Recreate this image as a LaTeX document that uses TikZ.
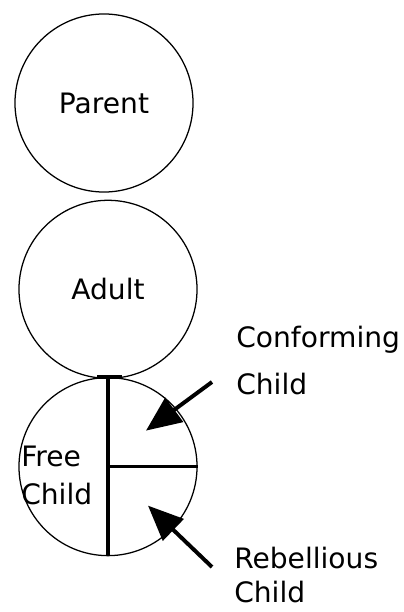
\documentclass[tikz,border=0pt]{standalone}
\usepackage{fontspec}
\setmainfont{DejaVu Sans}
\usetikzlibrary{arrows.meta,positioning,calc}

\begin{document}
\begin{tikzpicture}[
  x=0.025cm, y=-0.025cm,
  circ/.style={circle, draw, line width=0.9pt, minimum size=4.45cm, inner sep=0pt, font=\fontsize{20}{27}\selectfont},
  lbl/.style={font=\fontsize{20}{27}\selectfont, align=left, inner sep=0pt},
  arrow/.style={-{Triangle[length=25pt,width=21pt]}, line width=2.8pt},
  divider/.style={line width=2.4pt}
]
  \useasboundingbox (0,0) rectangle (403,612);

  \node[circ] (parent) at (104,103) {Parent};
  \node[circ, below=0.175cm of parent, xshift=0.1cm] (adult) {Adult};
  \node[circ, below=-0.05cm of adult] (child) {};

  \node[lbl, anchor=north west] (free) at (21,446) {Free\\Child};
  \node[lbl, anchor=north west] (conf) at (236,326) {Conforming\\[6pt]Child};
  \node[lbl, anchor=north west] (rebel) at (234,547) {Rebellious\\[-3pt]Child};

  % dividers of the child circle
  \draw[divider] (child.north) -- (child.south);
  \draw[divider] ($(child.north)+(-11,0)$) -- ($(child.north)+(14,0)$);
  \draw[divider] (child.center) -- (child.east);

  \coordinate (conftail) at (212,382);
  \coordinate (rebeltail) at (212,567);
  \coordinate (conftip) at ($(child.center)+(38,-36)$);
  \coordinate (rebeltip) at ($(child.center)+(40,39)$);

  \draw[arrow] (conftail) -- (conftip);
  \draw[arrow] (rebeltail) -- (rebeltip);
\end{tikzpicture}
\end{document}
